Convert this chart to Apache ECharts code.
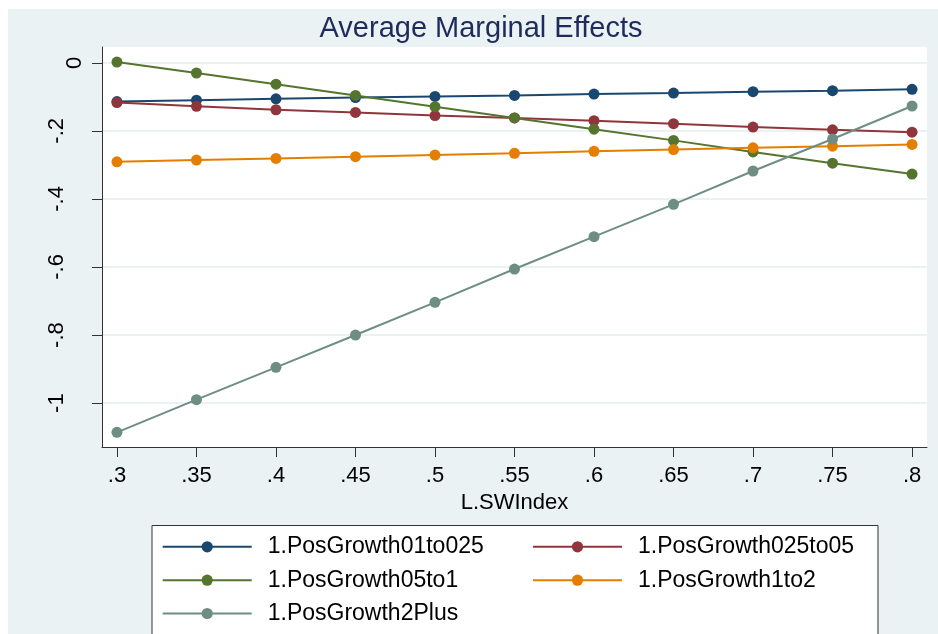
<!DOCTYPE html>
<html><head><meta charset="utf-8">
<script src="https://cdn.jsdelivr.net/npm/echarts@6/dist/echarts.min.js"></script>
<style>html,body{margin:0;padding:0;background:#fff}#c{width:938px;height:634px}</style>
</head><body><div id="c"></div>
<script>
const xValues = [0.3, 0.35, 0.4, 0.45, 0.5, 0.55, 0.6, 0.65, 0.7, 0.75, 0.8];
const seriesNames = ['1.PosGrowth01to025', '1.PosGrowth025to05', '1.PosGrowth05to1', '1.PosGrowth1to2', '1.PosGrowth2Plus'];
const growth01to025 = [-0.114, -0.110, -0.106, -0.102, -0.099, -0.096, -0.092, -0.089, -0.085, -0.082, -0.078];
const growth025to05 = [-0.117, -0.128, -0.138, -0.146, -0.155, -0.162, -0.170, -0.179, -0.189, -0.197, -0.204];
const growth05to1 = [0.002, -0.030, -0.063, -0.096, -0.129, -0.162, -0.195, -0.228, -0.262, -0.295, -0.327];
const growth1to2 = [-0.291, -0.286, -0.281, -0.276, -0.271, -0.266, -0.260, -0.255, -0.250, -0.245, -0.240];
const growth2Plus = [-1.086, -0.990, -0.895, -0.800, -0.704, -0.606, -0.511, -0.416, -0.318, -0.224, -0.127];
const xTicks = [0.3, 0.35, 0.4, 0.45, 0.5, 0.55, 0.6, 0.65, 0.7, 0.75, 0.8];
const yTicks = [0, -0.2, -0.4, -0.6, -0.8, -1];
const titleText = 'Average Marginal Effects';
const xTitle = 'L.SWIndex';

const allValues = [growth01to025, growth025to05, growth05to1, growth1to2, growth2Plus];
const colors = ['#1a476f', '#90353b', '#55752f', '#e37e00', '#6e8e84'];
const FONT = "'Liberation Sans', Arial, Helvetica, sans-serif";

function fmt(v) {
  let s = String(Math.round(v * 100) / 100);
  return s.replace('0.', '.');
}

const chart = echarts.init(document.getElementById('c'), null, {renderer: 'canvas'});

const legendCols = [161.7, 532];
const legendRows = [547.3, 580.7, 614];

const option = {
  animation: false,
  title: {
    text: titleText,
    left: 481, top: 14, padding: 0, textAlign: 'center',
    textStyle: {fontFamily: FONT, fontSize: 29, fontWeight: 'normal', color: '#1e2b5b'}
  },
  graphic: [
    {type: 'rect', z: -1, silent: true, shape: {x: 8, y: 9, width: 930, height: 625}, style: {fill: '#eaf2f3'}},
    {type: 'rect', z: 1, silent: true, shape: {x: 152, y: 525.5, width: 726, height: 130}, style: {fill: '#ffffff', stroke: '#333333', lineWidth: 1}}
  ],
  legend: seriesNames.map((n, i) => ({
    data: [n],
    left: legendCols[i % 2],
    top: legendRows[Math.floor(i / 2)] - 12,
    padding: 0,
    itemWidth: 89,
    itemHeight: 14,
    selectedMode: false,
    textStyle: {fontFamily: FONT, fontSize: 23, color: '#000', padding: [0, 0, 0, 11]}
  })),
  grid: {
    left: 102, top: 47, right: 11, bottom: 187,
    show: true, backgroundColor: '#ffffff', borderWidth: 0
  },
  xAxis: {
    type: 'value', min: 0.2906, max: 0.8094,
    name: xTitle, nameLocation: 'middle', nameGap: 42,
    nameTextStyle: {fontFamily: FONT, fontSize: 22, color: '#000'},
    axisLine: {show: true, onZero: false, lineStyle: {color: '#333', width: 1}},
    axisTick: {show: true, customValues: xTicks, length: 10, lineStyle: {color: '#333', width: 1}},
    axisLabel: {customValues: xTicks, formatter: fmt, fontFamily: FONT, fontSize: 22, color: '#000', margin: 18},
    splitLine: {show: false}
  },
  yAxis: {
    type: 'value', min: -1.129, max: 0.0464,
    axisLine: {show: true, onZero: false, lineStyle: {color: '#333', width: 1}},
    axisTick: {show: true, customValues: yTicks, length: 10, lineStyle: {color: '#333', width: 1}},
    axisLabel: {
      customValues: yTicks, rotate: 90, margin: 16,
      formatter: v => (Math.abs(v) < 1e-9 ? '{z|0}' : '{n|' + fmt(v) + '}'),
      fontFamily: FONT, fontSize: 22, color: '#000',
      rich: {
        n: {fontFamily: FONT, fontSize: 22, color: '#000', padding: [0, 0, 18, 0]},
        z: {fontFamily: FONT, fontSize: 22, color: '#000'}
      }
    },
    splitLine: {show: true, lineStyle: {color: '#eaf2f3', width: 2}}
  },
  series: seriesNames.map((n, i) => ({
    name: n,
    type: 'line',
    data: xValues.map((x, j) => [x, allValues[i][j]]),
    symbol: 'circle',
    symbolSize: 11,
    color: colors[i],
    lineStyle: {color: colors[i], width: 2},
    itemStyle: {color: colors[i]}
  }))
};
chart.setOption(option);
</script></body></html>
